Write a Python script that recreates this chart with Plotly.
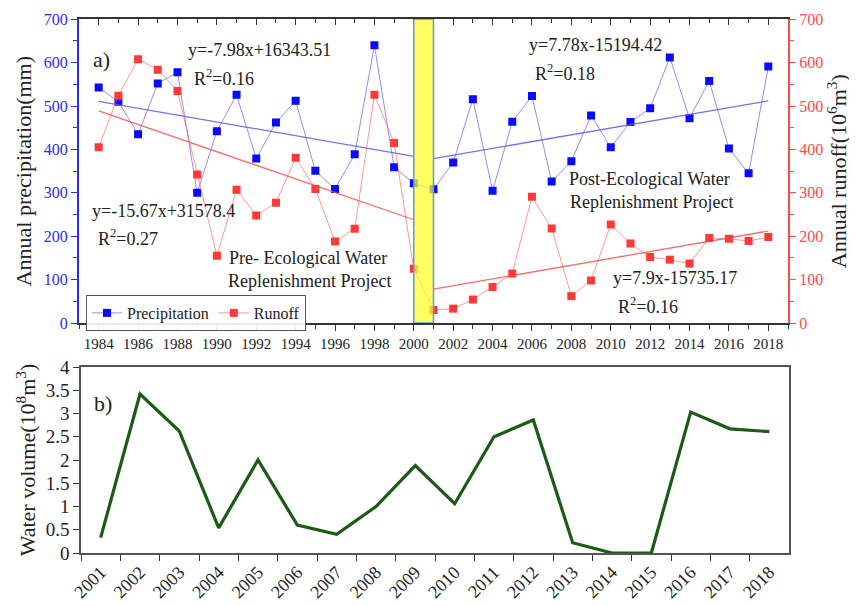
import plotly.graph_objects as go

years = list(range(1984, 2019))
precipitation = [543, 510, 435, 552, 578, 300, 442, 526, 379, 462, 512, 351, 309, 389, 640, 359, 322,
                 308, 370, 516, 305, 464, 523, 326, 373, 478, 405, 463, 495, 612, 472, 558, 402, 345, 591]
runoff = [405, 524, 608, 584, 535, 342, 155, 307, 248, 277, 381, 309, 188, 217, 526, 415, 125,
          30, 33, 54, 83, 114, 291, 218, 62, 98, 227, 183, 152, 146, 137, 196, 194, 189, 198]

# trend line endpoints
pre_years = [1984, 2000]
post_years = [2001, 2018]
precip_pre_trend = [511, 384]
runoff_pre_trend = [489, 238]
precip_post_trend = [379, 512]
runoff_post_trend = [78, 212]

wv_years = [str(y) for y in range(2001, 2019)]
water_volume = [0.33, 3.42, 2.62, 0.54, 2.0, 0.60, 0.40, 1.0, 1.88, 1.06, 2.50, 2.86, 0.22, 0.0, 0.0, 3.03, 2.67, 2.61]

PAGE_W, PAGE_H = 857, 606
OFF = 8  # default body margin of the page
W, H = PAGE_W - OFF, PAGE_H - OFF
FONT = "Liberation Serif, Times New Roman, Times, DejaVu Serif, serif"
BLUE = "#2b2bff"
RED = "#ff4a4a"

def px(x):
    return (x - OFF) / W

def py(y):
    return 1 - (y - OFF) / H

fig = go.Figure()

fig.add_trace(go.Scatter(x=years, y=precipitation, mode="lines+markers", name="Precipitation",
                         line=dict(color="rgba(70,70,240,0.6)", width=1),
                         marker=dict(symbol="square", size=8, color="#0a0aff"),
                         xaxis="x", yaxis="y"))
fig.add_trace(go.Scatter(x=years, y=runoff, mode="lines+markers", name="Runoff",
                         line=dict(color="rgba(255,80,80,0.6)", width=1),
                         marker=dict(symbol="square", size=8, color="#ff3838"),
                         xaxis="x", yaxis="y2"))
for xs, ys, col in [(pre_years, precip_pre_trend, "rgba(90,90,230,0.85)"),
                    (post_years, precip_post_trend, "rgba(90,90,230,0.85)"),
                    (pre_years, runoff_pre_trend, "rgba(255,80,80,0.85)"),
                    (post_years, runoff_post_trend, "rgba(255,80,80,0.85)")]:
    fig.add_trace(go.Scatter(x=xs, y=ys, mode="lines", line=dict(color=col, width=1.3),
                             showlegend=False, hoverinfo="skip", xaxis="x", yaxis="y"))

# invisible trace for the top mirror axis
fig.add_trace(go.Scatter(x=[1984], y=[0], mode="markers", marker=dict(opacity=0),
                         showlegend=False, hoverinfo="skip", xaxis="x3", yaxis="y"))

fig.add_trace(go.Scatter(x=wv_years, y=water_volume, mode="lines",
                         line=dict(color="#1d5a17", width=3.2), showlegend=False,
                         xaxis="x2", yaxis="y3"))

top_dom_x = [px(79), px(788)]
top_dom_y = [py(323), py(19.3)]
bot_dom_x = [px(81), px(789)]
bot_dom_y = [py(553), py(367)]

fig.update_layout(
    template="none",
    width=W, height=H,
    margin=dict(l=0, r=0, t=0, b=0, pad=0),
    paper_bgcolor="white", plot_bgcolor="white",
    font=dict(family=FONT, color="#222", size=16),
    showlegend=True,
    legend=dict(x=px(86), y=py(295), xanchor="left", yanchor="top", orientation="h",
                bordercolor="#555", borderwidth=1, bgcolor="rgba(255,255,255,0.9)",
                font=dict(size=16, family=FONT, color="#222"),
                itemwidth=30, tracegroupgap=0),
    xaxis=dict(domain=top_dom_x, anchor="y", range=[1983, 2019], tick0=1984, dtick=2,
               automargin=False,
               ticks="outside", ticklen=6, tickcolor="#333", showline=True, linecolor="#333",
               linewidth=1.5, showgrid=False, zeroline=False,
               minor=dict(dtick=1, tick0=1984, ticks="outside", ticklen=4, tickcolor="#333"),
               tickfont=dict(size=15, family=FONT, color="#222")),
    xaxis3=dict(overlaying="x", side="top", anchor="y", range=[1983, 2019], tick0=1984, dtick=2,
                automargin=False,
                ticks="inside", ticklen=6, tickcolor="#333", showline=True, linecolor="#333",
                linewidth=1.5, showticklabels=False, showgrid=False, zeroline=False,
                minor=dict(dtick=1, tick0=1984, ticks="inside", ticklen=4, tickcolor="#333")),
    yaxis=dict(domain=top_dom_y, anchor="x", range=[0, 700], dtick=100, ticks="outside",
               automargin=False,
               ticklen=6, tickcolor=BLUE, showline=True, linecolor=BLUE, linewidth=2,
               showgrid=False, zeroline=False,
               minor=dict(dtick=50, ticks="outside", ticklen=4, tickcolor=BLUE),
               tickfont=dict(size=16, family=FONT, color=BLUE),
               title=dict(text="Annual precipitation(mm)", font=dict(size=22, family=FONT, color="#222"),
                          standoff=6)),
    yaxis2=dict(overlaying="y", side="right", anchor="x", range=[0, 700], dtick=100,
                automargin=False,
                ticks="outside", ticklen=6, tickcolor=RED, showline=True, linecolor=RED,
                linewidth=2, showgrid=False, zeroline=False,
                minor=dict(dtick=50, ticks="outside", ticklen=4, tickcolor=RED),
                tickfont=dict(size=16, family=FONT, color=RED),
                title=dict(text="Annual runoff(10<sup>6</sup>m<sup>3</sup>)",
                           font=dict(size=22, family=FONT, color="#222"), standoff=6)),
    xaxis2=dict(domain=bot_dom_x, anchor="y3", type="category", tickson="boundaries",
                range=[-0.5, 17.5], automargin=False,
                ticks="outside", ticklen=6, tickcolor="#333", showline=True, linecolor="#555",
                linewidth=1.5, mirror=True, showgrid=False, tickangle=-45,
                tickfont=dict(size=18, family=FONT, color="#222")),
    yaxis3=dict(domain=bot_dom_y, anchor="x2", range=[0, 4], dtick=0.5, ticks="outside",
                automargin=False,
                ticklen=6, tickcolor="#333", showline=True, linecolor="#555", linewidth=1.5,
                mirror=True, showgrid=False, zeroline=False,
                tickfont=dict(size=19, family=FONT, color="#222"),
                title=dict(text="Water volume(10<sup>8</sup>m<sup>3</sup>)",
                           font=dict(size=22, family=FONT, color="#222"), standoff=4)),
)

fig.add_shape(type="rect", xref="x", yref="y", x0=2000, x1=2001, y0=0, y1=700,
              fillcolor="rgba(255,255,40,0.72)", line=dict(color="#5b9bd5", width=1.5),
              layer="above")

ann = [
    ("a)", 91, 60, 22),
    ("y=-7.98x+16343.51", 186, 50, 18),
    ("R<sup>2</sup>=0.16", 192, 77, 18),
    ("y=-15.67x+31578.4", 90, 211, 18),
    ("R<sup>2</sup>=0.27", 96, 238, 18),
    ("Pre- Ecological Water", 227, 258, 18),
    ("Replenishment Project", 226, 281, 18),
    ("y=7.78x-15194.42", 527, 45, 18),
    ("R<sup>2</sup>=0.18", 533, 72, 18),
    ("Post-Ecological Water", 567, 179, 18),
    ("Replenishment Project", 568, 202, 18),
    ("y=7.9x-15735.17", 611, 278, 18),
    ("R<sup>2</sup>=0.16", 616, 305, 18),
    ("b)", 92, 403, 22),
]
for text, x, y, s in ann:
    fig.add_annotation(text=text, x=px(x), y=py(y), xref="paper", yref="paper",
                       xanchor="left", yanchor="middle", showarrow=False,
                       font=dict(size=s, family=FONT, color="#222"))

fig.write_html("out.html")
